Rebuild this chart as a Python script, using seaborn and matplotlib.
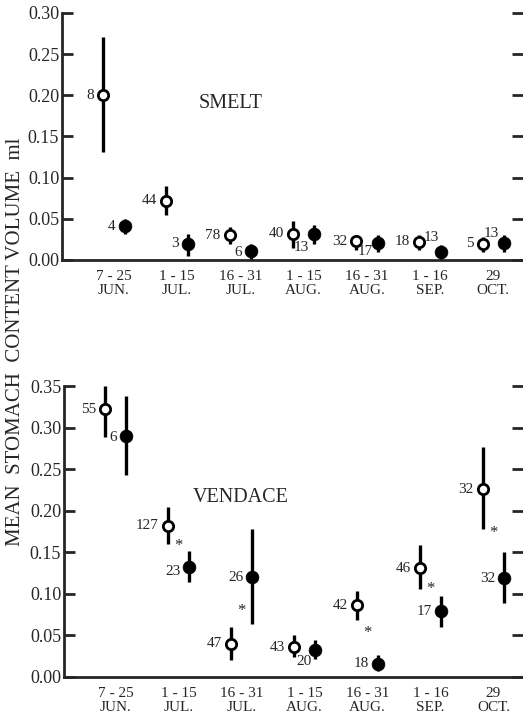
import numpy as np
import pandas as pd
import seaborn as sns
import matplotlib.pyplot as plt

sns.set_style('ticks')
plt.rcParams['font.family'] = ['Liberation Serif', 'DejaVu Serif']

# DATA
periods = ['7 - 25\nJUN.', '1 - 15\nJUL.', '16 - 31\nJUL.', '1 - 15\nAUG.',
           '16 - 31\nAUG.', '1 - 16\nSEP.', '29\nOCT.']

# smelt: open = first series, filled = second series
smelt_open = [0.200, 0.072, 0.030, 0.032, 0.023, 0.022, 0.020]
smelt_open_lo = [0.131, 0.055, 0.020, 0.015, 0.012, 0.012, 0.010]
smelt_open_hi = [0.271, 0.090, 0.040, 0.047, 0.030, 0.030, 0.028]
smelt_open_n = [8, 44, 78, 40, 32, 18, 5]
smelt_fill = [0.041, 0.020, 0.011, 0.032, 0.021, 0.010, 0.021]
smelt_fill_lo = [0.032, 0.005, 0.000, 0.020, 0.010, 0.000, 0.010]
smelt_fill_hi = [0.050, 0.031, 0.020, 0.042, 0.030, 0.018, 0.030]
smelt_fill_n = [4, 3, 6, 13, 17, 13, 13]

# vendace
vend_open = [0.322, 0.182, 0.040, 0.036, 0.086, 0.131, 0.226]
vend_open_lo = [0.289, 0.160, 0.020, 0.024, 0.068, 0.106, 0.178]
vend_open_hi = [0.350, 0.205, 0.060, 0.050, 0.103, 0.159, 0.277]
vend_open_n = [55, 127, 47, 43, 42, 46, 32]
vend_fill = [0.290, 0.132, 0.120, 0.032, 0.016, 0.079, 0.119]
vend_fill_lo = [0.243, 0.114, 0.064, 0.022, 0.007, 0.060, 0.089]
vend_fill_hi = [0.338, 0.151, 0.178, 0.045, 0.027, 0.097, 0.150]
vend_fill_n = [6, 23, 26, 20, 18, 17, 32]
vend_star_pos = [1, 2, 4, 5, 6]
vend_star_y = [0.158, 0.079, 0.053, 0.106, 0.173]

# label offsets in pixels (dx, dy), text is right-aligned
smelt_open_off = [(-9, 0)] * 7
smelt_fill_off = [(-9, 0), (-9, 0), (-9, -2), (-5, -14), (-5, -9), (-2, 14), (-5, 9)]
vend_open_off = [(-9, 0)] * 7
vend_fill_off = [(-9, -2), (-9, -4), (-9, 0), (-4, -11), (-9, 0), (-9, 0), (-9, 0)]

shift = 0.17


def panel(ax, o, olo, ohi, on, f, flo, fhi, fn, ooff, foff, ymax):
    x = np.arange(len(periods))
    df = pd.DataFrame({
        'x': np.concatenate([x - shift, x + shift]),
        'y': o + f,
        'lo': olo + flo,
        'hi': ohi + fhi,
        'n': on + fn,
        'kind': ['open'] * len(o) + ['filled'] * len(f),
    })
    ax.vlines(df['x'], df['lo'], df['hi'], color='black', lw=2.4, zorder=2)
    sub = df[df.kind == 'open']
    sns.scatterplot(data=sub, x='x', y='y', ax=ax, s=55, color='white',
                    edgecolor='black', linewidth=2.0, zorder=3, legend=False)
    sub = df[df.kind == 'filled']
    sns.scatterplot(data=sub, x='x', y='y', ax=ax, s=85, color='black',
                    edgecolor='black', linewidth=0.5, zorder=3, legend=False)
    for (_, r), off in zip(df.iterrows(), ooff + foff):
        ax.annotate(str(r.n), (r.x, r.y), xytext=off, textcoords='offset pixels',
                    ha='right', va='center', fontsize=11)
    ax.set_xlim(-0.82, 6.47)
    ax.set_ylim(0, ymax)
    ax.set_xticks(x)
    ax.set_xticklabels(periods, fontsize=11, linespacing=1.1)
    ax.tick_params(axis='x', length=0, pad=7)
    ax.set_yticks(np.arange(0, ymax + 0.001, 0.05))
    ax.set_yticklabels(['%.2f' % v for v in np.arange(0, ymax + 0.001, 0.05)])
    ax.tick_params(axis='y', direction='in', length=8, width=2, labelsize=13,
                   pad=2, right=True)
    ax.spines['top'].set_visible(False)
    ax.spines['right'].set_visible(False)
    ax.spines['left'].set_linewidth(2)
    ax.spines['bottom'].set_linewidth(2)
    ax.set_xlabel('')
    ax.set_ylabel('')


fig = plt.figure(figsize=(5.23, 7.17), dpi=100)
ax1 = fig.add_axes([0.1185, 0.6374, 0.8815, 0.3445])
ax2 = fig.add_axes([0.1224, 0.0558, 0.8776, 0.4058])

panel(ax1, smelt_open, smelt_open_lo, smelt_open_hi, smelt_open_n,
      smelt_fill, smelt_fill_lo, smelt_fill_hi, smelt_fill_n,
      smelt_open_off, smelt_fill_off, 0.30)
panel(ax2, vend_open, vend_open_lo, vend_open_hi, vend_open_n,
      vend_fill, vend_fill_lo, vend_fill_hi, vend_fill_n,
      vend_open_off, vend_fill_off, 0.35)

for p, yv in zip(vend_star_pos, vend_star_y):
    ax2.text(p, yv, '*', ha='center', va='center', fontsize=12)

ax1.text(1.84, 0.19, 'SMELT', ha='center', va='center', fontsize=14.5)
ax2.text(1.98, 0.216, 'VENDACE', ha='center', va='center', fontsize=14.5)

fig.text(0.029, 0.523, 'MEAN  STOMACH  CONTENT VOLUME  ml', rotation=90,
         ha='center', va='center', fontsize=15)

fig.savefig('out.png', dpi=100)
